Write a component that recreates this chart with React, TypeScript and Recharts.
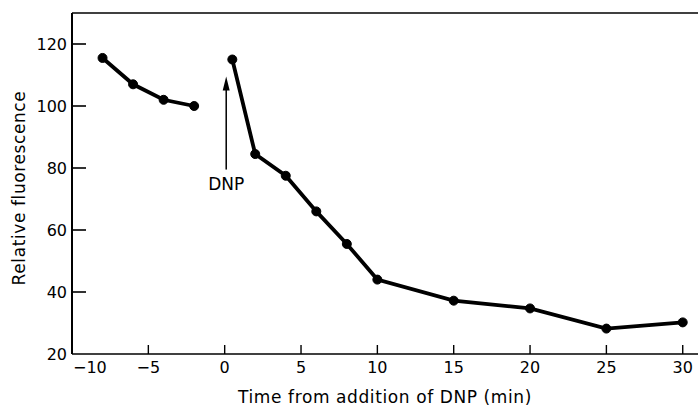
import { LineChart, Line, XAxis, YAxis, ReferenceLine } from "recharts";

// before DNP addition
const PRE_T = [-8, -6, -4, -2];
const PRE_F = [115.5, 107, 102, 100];

// after DNP addition
const POST_T = [0.5, 2, 4, 6, 8, 10, 15, 20, 25, 30];
const POST_F = [115, 84.5, 77.5, 66, 55.5, 44, 37.2, 34.7, 28.2, 30.2];

const X_TICKS = [-10, -5, 0, 5, 10, 15, 20, 25, 30];
const Y_TICKS = [20, 40, 60, 80, 100, 120];
const X_DOMAIN = [-10, 31];
const Y_DOMAIN = [20, 130];

// arrow marking the addition of DNP
const ARROW_T = 0.1;
const ARROW_FROM = 79.5;
const ARROW_TO = 109.5;

const FONT = "'DejaVu Sans', sans-serif";
const INK = "#000";

const pre = PRE_T.map((t, i) => ({ t, f: PRE_F[i] }));
const post = POST_T.map((t, i) => ({ t, f: POST_F[i] }));

function YTick({ x, y, payload }: any) {
  return (
    <text x={x} y={y} dy="0.36em" textAnchor="end" fontFamily={FONT} fontSize={16} fill={INK}>
      {payload.value}
    </text>
  );
}

function XTick({ x, y, payload }: any) {
  const first = payload.value === X_TICKS[0];
  const label = String(payload.value).replace("-", "\u2212");
  return (
    <text
      x={first ? x + 1 : x}
      y={y}
      dy="0.71em"
      textAnchor={first ? "start" : "middle"}
      fontFamily={FONT}
      fontSize={16}
      fill={INK}
    >
      {label}
    </text>
  );
}

// inward tick marks, anchored on the axis through a reference segment
function YMark(props: any) {
  const x = Math.min(props.x1, props.x2);
  return <rect x={x} y={props.y1 - 0.8} width={14} height={1.6} fill={INK} />;
}

function XMark(props: any) {
  const base = Math.max(props.y1, props.y2);
  return <rect x={props.x1 - 0.7} y={base - 9} width={1.4} height={9} fill={INK} />;
}

function Arrow(props: any) {
  const { x1, y1, x2, y2 } = props;
  const base = Math.max(y1, y2);
  const tip = Math.min(y1, y2);
  const x = (x1 + x2) / 2;
  return (
    <g>
      <rect x={x - 0.75} y={tip + 10} width={1.5} height={base - tip - 10} fill={INK} />
      <path d={`M${x},${tip}L${x - 3.5},${tip + 14}L${x + 3.5},${tip + 14}Z`} fill={INK} />
      <text x={x} y={base + 20} textAnchor="middle" fontFamily={FONT} fontSize={17} fill={INK}>
        DNP
      </text>
    </g>
  );
}

const titleStyle = {
  position: "absolute" as const,
  fontFamily: FONT,
  fontSize: 17,
  letterSpacing: 0.6,
  color: INK,
  whiteSpace: "nowrap" as const,
  lineHeight: "20px",
};

export default function App() {
  return (
    <div style={{ position: "absolute", left: 0, top: 0, width: 698, height: 410, background: "#fff" }}>
      <LineChart width={698} height={410} margin={{ top: 13, right: 0, bottom: 0, left: 0 }}>
        <XAxis
          dataKey="t"
          type="number"
          domain={X_DOMAIN}
          ticks={X_TICKS}
          allowDataOverflow
          height={56}
          tickSize={0}
          tickMargin={8}
          tickLine={false}
          axisLine={{ stroke: INK, strokeWidth: 1.6 }}
          tick={<XTick />}
        />
        <YAxis
          type="number"
          domain={Y_DOMAIN}
          ticks={Y_TICKS}
          allowDataOverflow
          width={72}
          tickSize={0}
          tickMargin={5}
          tickLine={false}
          axisLine={{ stroke: INK, strokeWidth: 2 }}
          tick={<YTick />}
        />
        <ReferenceLine y={Y_DOMAIN[1]} stroke={INK} strokeWidth={1.6} />
        {Y_TICKS.slice(1).map((v) => (
          <ReferenceLine
            key={`y${v}`}
            ifOverflow="visible"
            segment={[
              { x: X_DOMAIN[0], y: v },
              { x: X_DOMAIN[0] + 1, y: v },
            ]}
            shape={YMark}
          />
        ))}
        {X_TICKS.slice(1).map((v) => (
          <ReferenceLine
            key={`x${v}`}
            ifOverflow="visible"
            segment={[
              { x: v, y: Y_DOMAIN[0] },
              { x: v, y: Y_DOMAIN[0] + 3 },
            ]}
            shape={XMark}
          />
        ))}
        <ReferenceLine
          segment={[
            { x: ARROW_T, y: ARROW_FROM },
            { x: ARROW_T, y: ARROW_TO },
          ]}
          shape={Arrow}
        />
        <Line
          data={pre}
          dataKey="f"
          stroke={INK}
          strokeWidth={3.8}
          dot={{ r: 4.5, fill: INK, stroke: INK, strokeWidth: 1 }}
          isAnimationActive={false}
        />
        <Line
          data={post}
          dataKey="f"
          stroke={INK}
          strokeWidth={3.8}
          dot={{ r: 4.5, fill: INK, stroke: INK, strokeWidth: 1 }}
          isAnimationActive={false}
        />
      </LineChart>
      <div style={{ ...titleStyle, left: 72, width: 626, top: 387, textAlign: "center" }}>
        Time from addition of DNP (min)
      </div>
      <div
        style={{
          ...titleStyle,
          left: 19,
          top: 188,
          transform: "translate(-50%, -50%) rotate(-90deg)",
        }}
      >
        Relative fluorescence
      </div>
    </div>
  );
}
